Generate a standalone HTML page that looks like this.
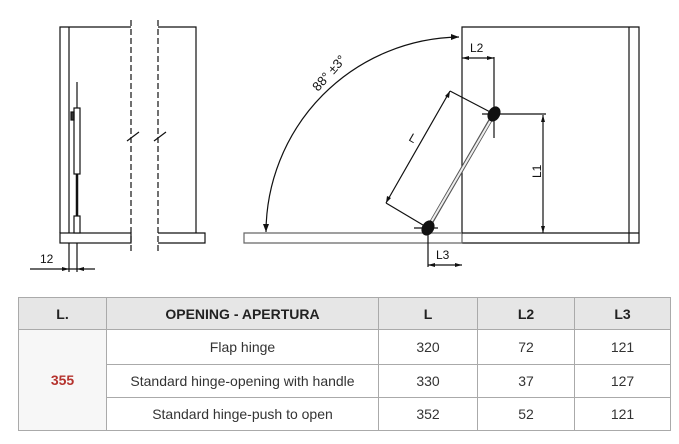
<!DOCTYPE html>
<html><head><meta charset="utf-8"><style>
body{margin:0;width:679px;height:444px;background:#fff;overflow:hidden;position:relative;font-family:"Liberation Sans",sans-serif}
table{position:absolute;left:18px;top:297px;border-collapse:collapse;font-size:14px;color:#333}
td{border:1px solid #aaa;text-align:center;padding:0;height:32px}
tr.h td{background:#e6e6e6;font-weight:bold;height:31px;color:#222}
</style></head><body>
<svg width="679" height="290" style="position:absolute;left:0;top:0" font-family="Liberation Sans, sans-serif">
<g fill="none" stroke="#111" stroke-width="1.2">
<path d="M60 233V27H131M69 27V233M158 27H196V233"/>
<rect x="60" y="233" width="71" height="10"/>
<path d="M158 233H205V243H158"/>
<path d="M131 20V252M158 20V252" stroke-dasharray="6,3"/>
<path d="M127 141l12-9M154 141l12-9"/>
<path d="M77 82V233"/>
<rect x="74" y="108" width="6" height="66" fill="#fff"/>
<path d="M77 174V220" stroke-width="2.5"/>
<rect x="74" y="216" width="6" height="17" fill="#fff"/>
<rect x="71" y="112" width="3" height="8" fill="#333"/>
<path d="M69 243V272M77 243V272M30 269H95"/>
<path d="M462 233V27H639V243H462M629 27V243"/>
<path d="M244 233H462V243H244Z" stroke="#666"/>
<path d="M462 233H639"/>
<path d="M266 232A196 196 0 0 1 459 37"/>
<path d="M428 228L494 114" stroke-width="4" stroke="#555"/>
<path d="M430 224L492 118" stroke-width="2" stroke="#eee"/>
<path d="M450 91L386 203M450 91L494 114M386 203L428 228"/>
<path d="M494 57V138M462 58H494M494 114H546M543 115V233M428 233V267M428 265H462M414 228H438M482 114H500"/>
</g>
<ellipse cx="494" cy="114" rx="6" ry="8" transform="rotate(30 494 114)" fill="#111"/>
<ellipse cx="428" cy="228" rx="6" ry="8" transform="rotate(30 428 228)" fill="#111"/>
<g fill="#111">
<path d="M266 232l-3-8 6 0z"/><path d="M459 37l-8-3 0 6z"/>
<path d="M462 58l7-2v4zM494 58l-7-2v4zM543 115l-2 7h4zM543 233l-2-7h4zM428 265l7-2v4zM462 265l-7-2v4zM450 91l-1 7 -4-2zM386 203l1-7 4 2z"/>
<path d="M69 269l-7-2v4zM77 269l7-2v4z"/>
</g>
<g font-size="12" fill="#111">
<text x="470" y="52">L2</text>
<text x="436" y="259">L3</text>
<text x="40" y="263">12</text>
<text transform="translate(541,178) rotate(-90)">L1</text>
<text transform="translate(408,140) rotate(30)">L</text>
<text transform="translate(318,92) rotate(-48)" font-size="13">88° ±3°</text>
</g>
</svg>
<table>
<tr class="h"><td style="width:87px">L.</td><td style="width:271px">OPENING - APERTURA</td><td style="width:98px">L</td><td style="width:96px">L2</td><td style="width:95px">L3</td></tr>
<tr><td rowspan="3" style="background:#f7f7f7;color:#b5332e;font-weight:bold">355</td><td style="height:34px">Flap hinge</td><td>320</td><td>72</td><td>121</td></tr>
<tr><td>Standard hinge-opening with handle</td><td>330</td><td>37</td><td>127</td></tr>
<tr><td>Standard hinge-push to open</td><td>352</td><td>52</td><td>121</td></tr>
</table>
</body></html>
